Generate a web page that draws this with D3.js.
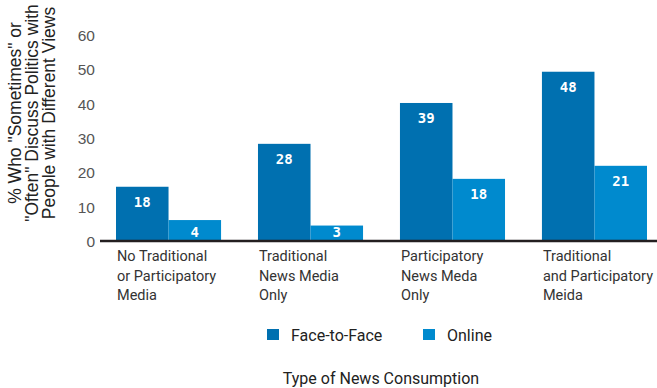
<!DOCTYPE html>
<meta charset="utf-8">
<style>
body { margin: 0; background: #fff; }
text { font-family: Roboto, "Liberation Sans", sans-serif; }
.tick text { font-family: "Liberation Sans", sans-serif; font-size: 15.5px; fill: #555; }
.ytitle { font-family: "Liberation Sans", sans-serif; font-size: 17.5px; fill: #222; }
.cat { font-size: 14.5px; fill: #333; }
.val { font-family: "DejaVu Sans Mono", monospace; font-weight: bold; font-size: 14px; fill: #fff; }
.legend text { font-size: 16px; fill: #222; }
</style>
<svg width="657" height="388"></svg>
<script src="https://d3js.org/d3.v7.min.js"></script>
<script>

var categories = [
  ["No Traditional", "or Participatory", "Media"],
  ["Traditional", "News Media", "Only"],
  ["Participatory", "News Meda", "Only"],
  ["Traditional", "and Participatory", "Meida"]
];
var series = ["Face-to-Face", "Online"];
// bar heights as drawn, and the labels printed on them
var faceToFace = [15.8, 28.3, 40.2, 49.3];
var online = [6.1, 4.5, 18.1, 21.9];
var faceLabels = [18, 28, 39, 48];
var onlineLabels = [4, 3, 18, 21];
var yTicks = [0, 10, 20, 30, 40, 50, 60];
var colors = ["#0070b0", "#008ace"];

var svg = d3.select("svg");

var x = d3.scaleBand()
    .domain(d3.range(categories.length))
    .range([116, 647])
    .paddingInner(0.26);

var x1 = d3.scaleBand()
    .domain(series)
    .range([0, x.bandwidth()]);

var y = d3.scaleLinear()
    .domain([0, 60])
    .range([241, 35]);

var color = d3.scaleOrdinal().domain(series).range(colors);

var rows = categories.map(function(c, i) {
  return [
    { s: series[0], v: faceToFace[i], label: faceLabels[i] },
    { s: series[1], v: online[i], label: onlineLabels[i] }
  ];
});

// y axis labels
var yAxis = svg.append("g")
    .attr("transform", "translate(95,0)")
    .call(d3.axisLeft(y).tickValues(yTicks).tickSize(0).tickPadding(0));
yAxis.select(".domain").remove();
yAxis.selectAll("text").attr("dy", "0.36em");

// y title
var yt = svg.append("text")
    .attr("class", "ytitle")
    .attr("text-anchor", "middle")
    .attr("transform", "translate(21,113) rotate(-90)");
['% Who "Sometimes" or', '"Often" Discuss Politics with', 'People with Different Views'].forEach(function(t, i) {
  yt.append("tspan").attr("x", 0).attr("dy", i === 0 ? 0 : 17).text(t);
});

var groups = svg.append("g").selectAll("g")
  .data(rows)
  .join("g")
    .attr("transform", function(d, i) { return "translate(" + x(i) + ",0)"; });

groups.selectAll("rect")
  .data(function(d) { return d; })
  .join("rect")
    .attr("x", function(d) { return x1(d.s); })
    .attr("y", function(d) { return y(d.v); })
    .attr("width", x1.bandwidth())
    .attr("height", function(d) { return y(0) - y(d.v); })
    .attr("fill", function(d) { return color(d.s); });

groups.selectAll("text.val")
  .data(function(d) { return d; })
  .join("text")
    .attr("class", "val")
    .attr("text-anchor", "middle")
    .attr("x", function(d) { return x1(d.s) + x1.bandwidth() / 2; })
    .attr("y", function(d) { return Math.min(y(d.v) + 15, 232); })
    .attr("dy", "0.36em")
    .text(function(d) { return d.label; });

// baseline
svg.append("line")
    .attr("x1", 100).attr("x2", 657)
    .attr("y1", y(0)).attr("y2", y(0))
    .attr("stroke", "#231f20")
    .attr("stroke-width", 2.5);

// category labels
svg.append("g").selectAll("text")
  .data(categories)
  .join("text")
    .attr("class", "cat")
    .attr("x", function(d, i) { return x(i) + 1; })
    .attr("y", 261)
    .each(function(d) {
      var t = d3.select(this);
      d.forEach(function(line, j) {
        t.append("tspan").attr("x", t.attr("x")).attr("dy", j === 0 ? 0 : 19.5).text(line);
      });
    });

// legend
var legend = svg.append("g").attr("class", "legend");
var legendX = [267, 423];
series.forEach(function(s, i) {
  legend.append("rect")
      .attr("x", legendX[i]).attr("y", 329)
      .attr("width", 12).attr("height", 11)
      .attr("fill", color(s));
  legend.append("text")
      .attr("x", legendX[i] + 24).attr("y", 335)
      .attr("dy", "0.36em")
      .text(s);
});

svg.append("text")
    .attr("x", 381).attr("y", 378)
    .attr("dy", "0.36em")
    .attr("text-anchor", "middle")
    .style("font-size", "16px")
    .style("fill", "#222")
    .text("Type of News Consumption");

</script>
